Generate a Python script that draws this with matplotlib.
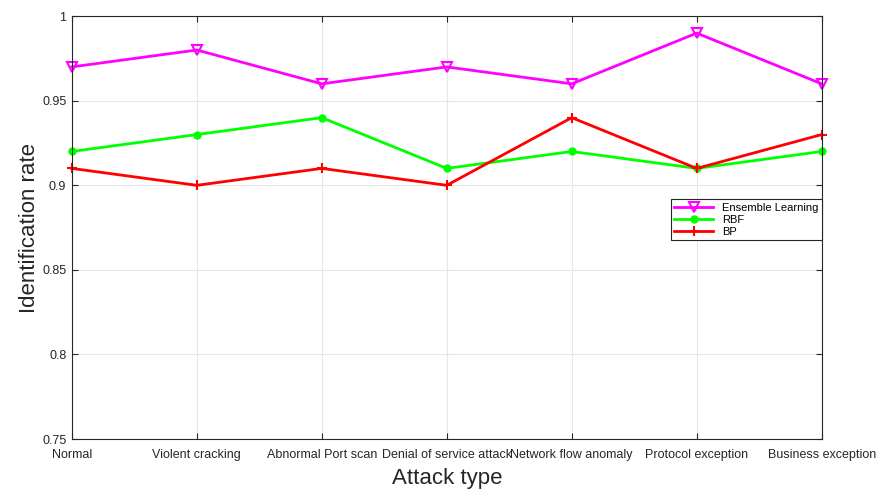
import numpy as np
import matplotlib.pyplot as plt

plt.rcParams['font.family'] = ['Liberation Sans', 'DejaVu Sans']

attacks = ['Normal', 'Violent cracking', 'Abnormal Port scan', 'Denial of service attack',
           'Network flow anomaly', 'Protocol exception', 'Business exception']
ensemble = [0.97, 0.98, 0.96, 0.97, 0.96, 0.99, 0.96]
rbf = [0.92, 0.93, 0.94, 0.91, 0.92, 0.91, 0.92]
bp = [0.91, 0.90, 0.91, 0.90, 0.94, 0.91, 0.93]

x = np.arange(1, len(attacks) + 1)

fig = plt.figure(figsize=(8.76, 4.9), dpi=100)
ax = fig.add_axes([0.082, 0.104, 0.856, 0.863])

ax.plot(x, ensemble, color=(1, 0, 1), marker='v', markersize=7, markerfacecolor='none',
        markeredgewidth=1.5, linewidth=2, label='Ensemble Learning', clip_on=False)
ax.plot(x, rbf, color=(0, 1, 0), marker='o', markersize=5, linewidth=2, label='RBF', clip_on=False)
ax.plot(x, bp, color=(1, 0, 0), marker='+', markersize=7, markeredgewidth=1.5, linewidth=2,
        label='BP', clip_on=False)

ax.set_xlim(1, 7)
ax.set_ylim(0.75, 1.0)
ax.set_xticks(x)
ax.set_xticklabels(attacks, fontsize=9, color='#262626')
ax.set_yticks([0.75, 0.8, 0.85, 0.9, 0.95, 1.0])
ax.set_yticklabels(['0.75', '0.8', '0.85', '0.9', '0.95', '1'], fontsize=9, color='#262626')
ax.tick_params(direction='in', top=True, right=True, length=4, color='#262626')
ax.tick_params(axis='x', pad=7)
ax.tick_params(axis='y', pad=4)
ax.grid(True, color='#e6e6e6', linewidth=0.8)
for s in ax.spines.values():
    s.set_color('#262626')
    s.set_linewidth(0.8)

ax.set_xlabel('Attack type', fontsize=16, color='#262626')
ax.xaxis.set_label_coords(0.5, -0.068)
ax.set_ylabel('Identification rate', fontsize=16, color='#262626')
ax.yaxis.set_label_coords(-0.043, 0.5)

leg = ax.legend(loc='upper right', bbox_to_anchor=(1.0, 0.567), fontsize=8,
                fancybox=False, edgecolor='#262626', framealpha=1, borderaxespad=0,
                handlelength=3.5, labelspacing=0.2, borderpad=0.3)
leg.get_frame().set_linewidth(0.8)

plt.savefig('out.png', dpi=100)
